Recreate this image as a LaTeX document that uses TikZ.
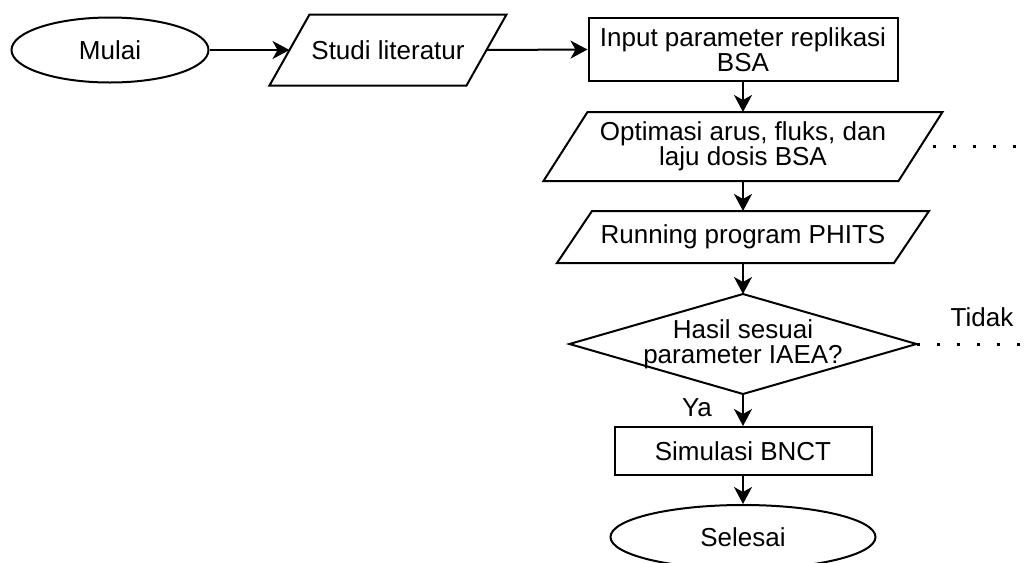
\documentclass[tikz,border=0pt]{standalone}
\usepackage{fontspec}
\setmainfont{Liberation Sans}
\usetikzlibrary{shapes.geometric,arrows.meta}
\newcommand\drawpara[2]{%
  \draw[line width=1pt] ([xshift=#2]#1.north west) -- ([xshift=#2]#1.north east)
    -- ([xshift=-#2]#1.south east) -- ([xshift=-#2]#1.south west) -- cycle;}
\newcommand\drawdiam[1]{%
  \draw[line width=1pt] (#1.north) -- (#1.east) -- (#1.south) -- (#1.west) -- cycle;}
\begin{document}
\begin{tikzpicture}[x=0.5pt,y=-0.5pt,
  base/.style={font=\fontsize{13}{12.3}\selectfont, align=center, inner sep=0pt, line width=1pt},
  term/.style={base, draw, ellipse},
  proc/.style={base, draw, rectangle},
  io/.style={base, rectangle},
  lbl/.style={font=\fontsize{13}{12.3}\selectfont, inner sep=0pt},
  arr/.style={-{Stealth[length=8.5pt,width=9pt,inset=2.5pt]}, line width=1pt},
  dots/.style={line width=1.5pt, dash pattern=on 1.5pt off 8.5pt}]
\useasboundingbox (0,0) rectangle (1030,563);
\node[term, minimum width=98.5pt, minimum height=32.5pt] (mulai) at (110,50) {Mulai};
\node[io, minimum width=97.5pt, minimum height=34.5pt] (studi) at (388,50) {Studi literatur};
\drawpara{studi}{10pt}
\node[proc, minimum width=154.5pt, minimum height=31.5pt] (input) at (743,49.5) {Input parameter replikasi\\BSA};
\node[io, minimum width=176.5pt, minimum height=33.5pt] (opt) at (743,146.5) {Optimasi arus, fluks, dan\\laju dosis BSA};
\drawpara{opt}{11pt}
\node[io, minimum width=167.5pt, minimum height=25pt] (run) at (743,237) {Running program PHITS};
\drawpara{run}{8.75pt}
\node[io, minimum width=172.5pt, minimum height=49pt] (hasil) at (743,344) {Hasil sesuai\\parameter IAEA?};
\drawdiam{hasil}
\node[proc, minimum width=128.5pt, minimum height=24pt] (sim) at (743,451) {Simulasi BNCT};
\node[term, minimum width=132.5pt, minimum height=32pt] (selesai) at (743,537) {Selesai};
\node[lbl] (tidak) at (982,317) {Tidak};
\node[lbl] (ya) at (697,408) {Ya};
\coordinate (d1) at (1030,146.5);
\coordinate (d2) at (1030,344);
\draw[arr] (mulai.east) -- (studi.west);
\draw[arr] (studi.east) -- (input.west);
\draw[arr] (input.south) -- (opt.north);
\draw[arr] (opt.south) -- (run.north);
\draw[arr] (run.south) -- (hasil.north);
\draw[arr] (hasil.south) -- (sim.north);
\draw[arr] (sim.south) -- (selesai.north);
\draw[dots] ([xshift=6pt]opt.east) -- (d1);
\draw[dots] (hasil.east) -- (d2);
\end{tikzpicture}
\end{document}
